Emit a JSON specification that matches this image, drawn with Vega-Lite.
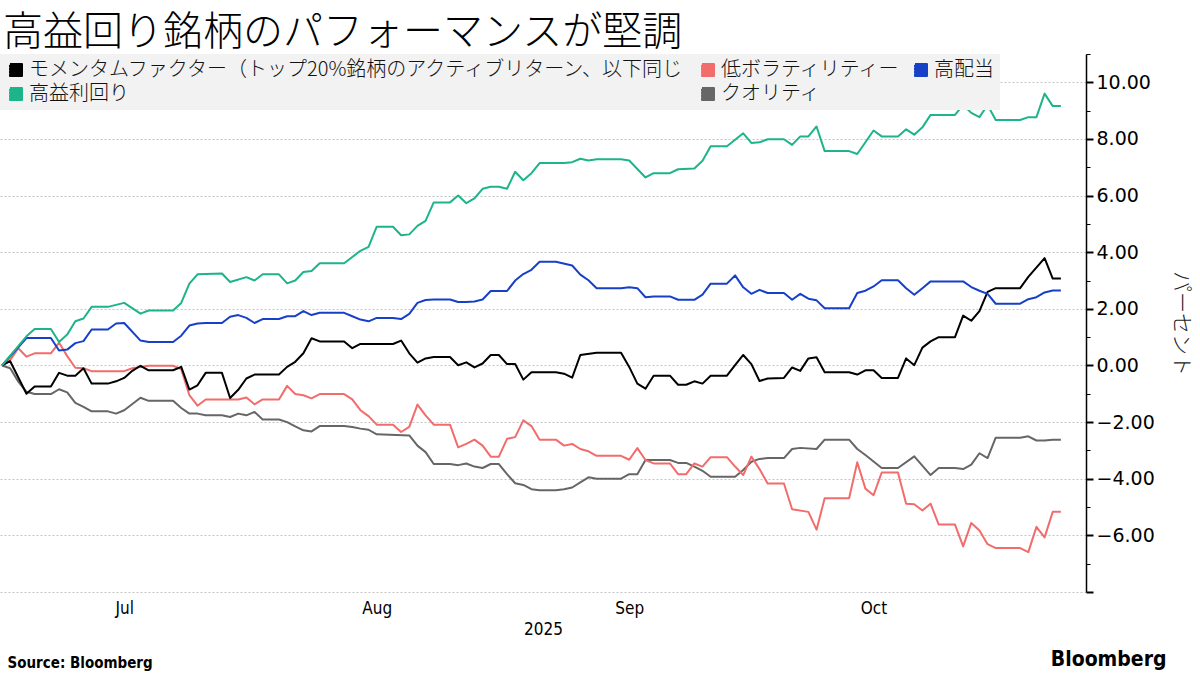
{
  "$schema": "https://vega.github.io/schema/vega-lite/v6.json",
  "width": 1200,
  "height": 675,
  "autosize": {"type": "fit", "contains": "padding"},
  "padding": {"left": 0, "top": 12, "right": 8, "bottom": 5},
  "background": "white",
  "title": {
    "text": "高益回り銘柄のパフォーマンスが堅調",
    "anchor": "start",
    "font": "Noto Sans CJK JP",
    "fontSize": 40,
    "fontWeight": 300,
    "color": "#000000",
    "offset": 1,
    "dx": 3
  },
  "config": {
    "view": {"stroke": null},
    "line": {"strokeWidth": 2, "strokeJoin": "round"}
  },
  "datasets": {
    "quality": [
      {"date": "2025-06-16", "value": 0}, {"date": "2025-06-17", "value": -0.1}, {"date": "2025-06-18", "value": -0.57}, {"date": "2025-06-19", "value": -0.93}, {"date": "2025-06-20", "value": -1.01}, {"date": "2025-06-22", "value": -1.01}, {"date": "2025-06-23", "value": -0.84}, {"date": "2025-06-24", "value": -0.95}, {"date": "2025-06-25", "value": -1.32}, {"date": "2025-06-26", "value": -1.46}, {"date": "2025-06-27", "value": -1.62}, {"date": "2025-06-29", "value": -1.62}, {"date": "2025-06-30", "value": -1.7}, {"date": "2025-07-01", "value": -1.58}, {"date": "2025-07-03", "value": -1.14}, {"date": "2025-07-04", "value": -1.25}, {"date": "2025-07-07", "value": -1.25}, {"date": "2025-07-08", "value": -1.5}, {"date": "2025-07-09", "value": -1.7}, {"date": "2025-07-10", "value": -1.7}, {"date": "2025-07-11", "value": -1.76}, {"date": "2025-07-13", "value": -1.76}, {"date": "2025-07-14", "value": -1.82}, {"date": "2025-07-15", "value": -1.7}, {"date": "2025-07-16", "value": -1.76}, {"date": "2025-07-17", "value": -1.64}, {"date": "2025-07-18", "value": -1.91}, {"date": "2025-07-20", "value": -1.91}, {"date": "2025-07-21", "value": -2.0}, {"date": "2025-07-22", "value": -2.15}, {"date": "2025-07-23", "value": -2.29}, {"date": "2025-07-24", "value": -2.33}, {"date": "2025-07-25", "value": -2.14}, {"date": "2025-07-28", "value": -2.14}, {"date": "2025-07-29", "value": -2.17}, {"date": "2025-07-30", "value": -2.23}, {"date": "2025-07-31", "value": -2.27}, {"date": "2025-08-01", "value": -2.43}, {"date": "2025-08-05", "value": -2.47}, {"date": "2025-08-06", "value": -2.83}, {"date": "2025-08-07", "value": -3.06}, {"date": "2025-08-08", "value": -3.48}, {"date": "2025-08-10", "value": -3.48}, {"date": "2025-08-11", "value": -3.52}, {"date": "2025-08-12", "value": -3.46}, {"date": "2025-08-13", "value": -3.57}, {"date": "2025-08-14", "value": -3.62}, {"date": "2025-08-15", "value": -3.48}, {"date": "2025-08-16", "value": -3.48}, {"date": "2025-08-17", "value": -3.84}, {"date": "2025-08-18", "value": -4.16}, {"date": "2025-08-19", "value": -4.22}, {"date": "2025-08-20", "value": -4.37}, {"date": "2025-08-21", "value": -4.41}, {"date": "2025-08-23", "value": -4.41}, {"date": "2025-08-24", "value": -4.37}, {"date": "2025-08-25", "value": -4.31}, {"date": "2025-08-26", "value": -4.13}, {"date": "2025-08-27", "value": -3.95}, {"date": "2025-08-28", "value": -4.0}, {"date": "2025-08-31", "value": -4.0}, {"date": "2025-09-01", "value": -3.84}, {"date": "2025-09-02", "value": -3.84}, {"date": "2025-09-03", "value": -3.34}, {"date": "2025-09-06", "value": -3.34}, {"date": "2025-09-07", "value": -3.44}, {"date": "2025-09-08", "value": -3.44}, {"date": "2025-09-09", "value": -3.57}, {"date": "2025-09-10", "value": -3.72}, {"date": "2025-09-11", "value": -3.93}, {"date": "2025-09-14", "value": -3.93}, {"date": "2025-09-15", "value": -3.69}, {"date": "2025-09-16", "value": -3.4}, {"date": "2025-09-17", "value": -3.3}, {"date": "2025-09-18", "value": -3.27}, {"date": "2025-09-20", "value": -3.27}, {"date": "2025-09-21", "value": -2.95}, {"date": "2025-09-22", "value": -2.91}, {"date": "2025-09-24", "value": -2.95}, {"date": "2025-09-25", "value": -2.62}, {"date": "2025-09-28", "value": -2.62}, {"date": "2025-09-29", "value": -2.95}, {"date": "2025-09-30", "value": -3.16}, {"date": "2025-10-02", "value": -3.62}, {"date": "2025-10-04", "value": -3.62}, {"date": "2025-10-06", "value": -3.21}, {"date": "2025-10-08", "value": -3.87}, {"date": "2025-10-09", "value": -3.62}, {"date": "2025-10-11", "value": -3.62}, {"date": "2025-10-12", "value": -3.66}, {"date": "2025-10-13", "value": -3.5}, {"date": "2025-10-14", "value": -3.1}, {"date": "2025-10-15", "value": -3.27}, {"date": "2025-10-16", "value": -2.55}, {"date": "2025-10-19", "value": -2.55}, {"date": "2025-10-20", "value": -2.5}, {"date": "2025-10-21", "value": -2.65}, {"date": "2025-10-22", "value": -2.65}, {"date": "2025-10-23", "value": -2.62}, {"date": "2025-10-24", "value": -2.62}
    ],
    "lowvol": [
      {"date": "2025-06-16", "value": 0}, {"date": "2025-06-17", "value": 0.19}, {"date": "2025-06-18", "value": 0.61}, {"date": "2025-06-19", "value": 0.31}, {"date": "2025-06-20", "value": 0.43}, {"date": "2025-06-22", "value": 0.43}, {"date": "2025-06-23", "value": 0.81}, {"date": "2025-06-24", "value": 0.33}, {"date": "2025-06-25", "value": -0.08}, {"date": "2025-06-26", "value": -0.1}, {"date": "2025-06-27", "value": -0.2}, {"date": "2025-07-01", "value": -0.2}, {"date": "2025-07-02", "value": -0.1}, {"date": "2025-07-03", "value": -0.05}, {"date": "2025-07-04", "value": -0.01}, {"date": "2025-07-07", "value": -0.01}, {"date": "2025-07-08", "value": -0.13}, {"date": "2025-07-09", "value": -1.05}, {"date": "2025-07-10", "value": -1.42}, {"date": "2025-07-11", "value": -1.2}, {"date": "2025-07-15", "value": -1.2}, {"date": "2025-07-16", "value": -1.13}, {"date": "2025-07-17", "value": -1.37}, {"date": "2025-07-18", "value": -1.2}, {"date": "2025-07-20", "value": -1.2}, {"date": "2025-07-21", "value": -0.72}, {"date": "2025-07-22", "value": -1.01}, {"date": "2025-07-23", "value": -1.05}, {"date": "2025-07-24", "value": -1.16}, {"date": "2025-07-25", "value": -1.01}, {"date": "2025-07-28", "value": -1.01}, {"date": "2025-07-29", "value": -1.2}, {"date": "2025-07-30", "value": -1.58}, {"date": "2025-07-31", "value": -1.79}, {"date": "2025-08-01", "value": -2.09}, {"date": "2025-08-03", "value": -2.09}, {"date": "2025-08-04", "value": -2.35}, {"date": "2025-08-05", "value": -2.17}, {"date": "2025-08-06", "value": -1.38}, {"date": "2025-08-07", "value": -1.76}, {"date": "2025-08-08", "value": -2.09}, {"date": "2025-08-10", "value": -2.09}, {"date": "2025-08-11", "value": -2.89}, {"date": "2025-08-12", "value": -2.77}, {"date": "2025-08-13", "value": -2.62}, {"date": "2025-08-14", "value": -2.83}, {"date": "2025-08-15", "value": -3.22}, {"date": "2025-08-16", "value": -3.22}, {"date": "2025-08-17", "value": -2.59}, {"date": "2025-08-18", "value": -2.53}, {"date": "2025-08-19", "value": -1.94}, {"date": "2025-08-20", "value": -2.14}, {"date": "2025-08-21", "value": -2.62}, {"date": "2025-08-23", "value": -2.62}, {"date": "2025-08-24", "value": -2.83}, {"date": "2025-08-25", "value": -2.77}, {"date": "2025-08-26", "value": -2.95}, {"date": "2025-08-27", "value": -3.03}, {"date": "2025-08-28", "value": -3.19}, {"date": "2025-08-31", "value": -3.19}, {"date": "2025-09-01", "value": -3.33}, {"date": "2025-09-02", "value": -2.92}, {"date": "2025-09-03", "value": -3.34}, {"date": "2025-09-04", "value": -3.46}, {"date": "2025-09-06", "value": -3.46}, {"date": "2025-09-07", "value": -3.84}, {"date": "2025-09-08", "value": -3.84}, {"date": "2025-09-09", "value": -3.46}, {"date": "2025-09-10", "value": -3.57}, {"date": "2025-09-11", "value": -3.24}, {"date": "2025-09-13", "value": -3.24}, {"date": "2025-09-14", "value": -3.57}, {"date": "2025-09-15", "value": -3.87}, {"date": "2025-09-16", "value": -3.22}, {"date": "2025-09-17", "value": -3.66}, {"date": "2025-09-18", "value": -4.17}, {"date": "2025-09-20", "value": -4.17}, {"date": "2025-09-21", "value": -5.08}, {"date": "2025-09-23", "value": -5.17}, {"date": "2025-09-24", "value": -5.8}, {"date": "2025-09-25", "value": -4.69}, {"date": "2025-09-28", "value": -4.69}, {"date": "2025-09-29", "value": -3.42}, {"date": "2025-09-30", "value": -4.35}, {"date": "2025-10-01", "value": -4.58}, {"date": "2025-10-02", "value": -3.78}, {"date": "2025-10-04", "value": -3.78}, {"date": "2025-10-05", "value": -4.88}, {"date": "2025-10-06", "value": -4.9}, {"date": "2025-10-07", "value": -5.12}, {"date": "2025-10-08", "value": -4.88}, {"date": "2025-10-09", "value": -5.62}, {"date": "2025-10-11", "value": -5.62}, {"date": "2025-10-12", "value": -6.39}, {"date": "2025-10-13", "value": -5.56}, {"date": "2025-10-14", "value": -5.83}, {"date": "2025-10-15", "value": -6.31}, {"date": "2025-10-16", "value": -6.45}, {"date": "2025-10-19", "value": -6.45}, {"date": "2025-10-20", "value": -6.59}, {"date": "2025-10-21", "value": -5.7}, {"date": "2025-10-22", "value": -6.07}, {"date": "2025-10-23", "value": -5.17}, {"date": "2025-10-24", "value": -5.17}
    ],
    "momentum": [
      {"date": "2025-06-16", "value": 0}, {"date": "2025-06-17", "value": 0.15}, {"date": "2025-06-19", "value": -1.0}, {"date": "2025-06-20", "value": -0.74}, {"date": "2025-06-22", "value": -0.74}, {"date": "2025-06-23", "value": -0.26}, {"date": "2025-06-24", "value": -0.36}, {"date": "2025-06-25", "value": -0.36}, {"date": "2025-06-26", "value": -0.1}, {"date": "2025-06-27", "value": -0.64}, {"date": "2025-06-29", "value": -0.64}, {"date": "2025-06-30", "value": -0.56}, {"date": "2025-07-01", "value": -0.44}, {"date": "2025-07-02", "value": -0.19}, {"date": "2025-07-03", "value": -0.01}, {"date": "2025-07-04", "value": -0.17}, {"date": "2025-07-07", "value": -0.17}, {"date": "2025-07-08", "value": -0.05}, {"date": "2025-07-09", "value": -0.85}, {"date": "2025-07-10", "value": -0.7}, {"date": "2025-07-11", "value": -0.26}, {"date": "2025-07-13", "value": -0.26}, {"date": "2025-07-14", "value": -1.15}, {"date": "2025-07-15", "value": -0.86}, {"date": "2025-07-16", "value": -0.46}, {"date": "2025-07-17", "value": -0.32}, {"date": "2025-07-20", "value": -0.32}, {"date": "2025-07-21", "value": -0.05}, {"date": "2025-07-22", "value": 0.13}, {"date": "2025-07-23", "value": 0.43}, {"date": "2025-07-24", "value": 0.96}, {"date": "2025-07-25", "value": 0.85}, {"date": "2025-07-28", "value": 0.85}, {"date": "2025-07-29", "value": 0.61}, {"date": "2025-07-30", "value": 0.76}, {"date": "2025-08-03", "value": 0.76}, {"date": "2025-08-04", "value": 0.88}, {"date": "2025-08-05", "value": 0.43}, {"date": "2025-08-06", "value": 0.1}, {"date": "2025-08-07", "value": 0.25}, {"date": "2025-08-08", "value": 0.3}, {"date": "2025-08-10", "value": 0.3}, {"date": "2025-08-11", "value": 0.01}, {"date": "2025-08-12", "value": 0.11}, {"date": "2025-08-13", "value": -0.07}, {"date": "2025-08-14", "value": 0.07}, {"date": "2025-08-15", "value": 0.37}, {"date": "2025-08-16", "value": 0.37}, {"date": "2025-08-17", "value": 0.05}, {"date": "2025-08-18", "value": 0.05}, {"date": "2025-08-19", "value": -0.5}, {"date": "2025-08-20", "value": -0.24}, {"date": "2025-08-23", "value": -0.24}, {"date": "2025-08-24", "value": -0.29}, {"date": "2025-08-25", "value": -0.43}, {"date": "2025-08-26", "value": 0.37}, {"date": "2025-08-28", "value": 0.45}, {"date": "2025-08-31", "value": 0.45}, {"date": "2025-09-01", "value": -0.05}, {"date": "2025-09-02", "value": -0.64}, {"date": "2025-09-03", "value": -0.82}, {"date": "2025-09-04", "value": -0.36}, {"date": "2025-09-06", "value": -0.36}, {"date": "2025-09-07", "value": -0.68}, {"date": "2025-09-08", "value": -0.68}, {"date": "2025-09-09", "value": -0.56}, {"date": "2025-09-10", "value": -0.64}, {"date": "2025-09-11", "value": -0.36}, {"date": "2025-09-13", "value": -0.36}, {"date": "2025-09-14", "value": 0.01}, {"date": "2025-09-15", "value": 0.37}, {"date": "2025-09-16", "value": 0.05}, {"date": "2025-09-17", "value": -0.55}, {"date": "2025-09-18", "value": -0.46}, {"date": "2025-09-20", "value": -0.44}, {"date": "2025-09-21", "value": -0.07}, {"date": "2025-09-22", "value": -0.19}, {"date": "2025-09-23", "value": 0.25}, {"date": "2025-09-24", "value": 0.29}, {"date": "2025-09-25", "value": -0.24}, {"date": "2025-09-28", "value": -0.24}, {"date": "2025-09-29", "value": -0.32}, {"date": "2025-09-30", "value": -0.17}, {"date": "2025-10-01", "value": -0.17}, {"date": "2025-10-02", "value": -0.44}, {"date": "2025-10-04", "value": -0.44}, {"date": "2025-10-05", "value": 0.25}, {"date": "2025-10-06", "value": 0.01}, {"date": "2025-10-07", "value": 0.63}, {"date": "2025-10-08", "value": 0.85}, {"date": "2025-10-09", "value": 1.0}, {"date": "2025-10-11", "value": 1.0}, {"date": "2025-10-12", "value": 1.76}, {"date": "2025-10-13", "value": 1.58}, {"date": "2025-10-14", "value": 1.92}, {"date": "2025-10-15", "value": 2.6}, {"date": "2025-10-16", "value": 2.73}, {"date": "2025-10-19", "value": 2.73}, {"date": "2025-10-20", "value": 3.13}, {"date": "2025-10-22", "value": 3.79}, {"date": "2025-10-23", "value": 3.07}, {"date": "2025-10-24", "value": 3.07}
    ],
    "dividend": [
      {"date": "2025-06-16", "value": 0}, {"date": "2025-06-19", "value": 0.97}, {"date": "2025-06-22", "value": 0.97}, {"date": "2025-06-23", "value": 0.53}, {"date": "2025-06-24", "value": 0.56}, {"date": "2025-06-25", "value": 0.79}, {"date": "2025-06-26", "value": 0.86}, {"date": "2025-06-27", "value": 1.27}, {"date": "2025-06-29", "value": 1.27}, {"date": "2025-06-30", "value": 1.48}, {"date": "2025-07-01", "value": 1.5}, {"date": "2025-07-03", "value": 0.88}, {"date": "2025-07-04", "value": 0.83}, {"date": "2025-07-07", "value": 0.83}, {"date": "2025-07-08", "value": 1.05}, {"date": "2025-07-09", "value": 1.41}, {"date": "2025-07-10", "value": 1.48}, {"date": "2025-07-11", "value": 1.5}, {"date": "2025-07-13", "value": 1.5}, {"date": "2025-07-14", "value": 1.72}, {"date": "2025-07-15", "value": 1.78}, {"date": "2025-07-16", "value": 1.68}, {"date": "2025-07-17", "value": 1.5}, {"date": "2025-07-18", "value": 1.64}, {"date": "2025-07-20", "value": 1.64}, {"date": "2025-07-21", "value": 1.74}, {"date": "2025-07-22", "value": 1.74}, {"date": "2025-07-23", "value": 1.92}, {"date": "2025-07-24", "value": 1.78}, {"date": "2025-07-25", "value": 1.86}, {"date": "2025-07-28", "value": 1.86}, {"date": "2025-07-29", "value": 1.74}, {"date": "2025-07-30", "value": 1.62}, {"date": "2025-07-31", "value": 1.56}, {"date": "2025-08-01", "value": 1.68}, {"date": "2025-08-03", "value": 1.68}, {"date": "2025-08-04", "value": 1.64}, {"date": "2025-08-05", "value": 1.82}, {"date": "2025-08-06", "value": 2.21}, {"date": "2025-08-07", "value": 2.31}, {"date": "2025-08-08", "value": 2.33}, {"date": "2025-08-10", "value": 2.33}, {"date": "2025-08-11", "value": 2.24}, {"date": "2025-08-12", "value": 2.24}, {"date": "2025-08-13", "value": 2.26}, {"date": "2025-08-14", "value": 2.33}, {"date": "2025-08-15", "value": 2.63}, {"date": "2025-08-17", "value": 2.63}, {"date": "2025-08-18", "value": 3.0}, {"date": "2025-08-19", "value": 3.23}, {"date": "2025-08-20", "value": 3.38}, {"date": "2025-08-21", "value": 3.66}, {"date": "2025-08-23", "value": 3.66}, {"date": "2025-08-25", "value": 3.53}, {"date": "2025-08-26", "value": 3.21}, {"date": "2025-08-27", "value": 3.01}, {"date": "2025-08-28", "value": 2.73}, {"date": "2025-08-31", "value": 2.73}, {"date": "2025-09-01", "value": 2.76}, {"date": "2025-09-02", "value": 2.73}, {"date": "2025-09-03", "value": 2.41}, {"date": "2025-09-04", "value": 2.44}, {"date": "2025-09-06", "value": 2.44}, {"date": "2025-09-07", "value": 2.32}, {"date": "2025-09-09", "value": 2.32}, {"date": "2025-09-10", "value": 2.5}, {"date": "2025-09-11", "value": 2.89}, {"date": "2025-09-13", "value": 2.89}, {"date": "2025-09-14", "value": 3.18}, {"date": "2025-09-15", "value": 2.76}, {"date": "2025-09-16", "value": 2.53}, {"date": "2025-09-17", "value": 2.67}, {"date": "2025-09-18", "value": 2.56}, {"date": "2025-09-20", "value": 2.56}, {"date": "2025-09-21", "value": 2.32}, {"date": "2025-09-22", "value": 2.53}, {"date": "2025-09-23", "value": 2.36}, {"date": "2025-09-24", "value": 2.3}, {"date": "2025-09-25", "value": 2.02}, {"date": "2025-09-28", "value": 2.02}, {"date": "2025-09-29", "value": 2.56}, {"date": "2025-09-30", "value": 2.64}, {"date": "2025-10-01", "value": 2.79}, {"date": "2025-10-02", "value": 3.01}, {"date": "2025-10-04", "value": 3.01}, {"date": "2025-10-05", "value": 2.73}, {"date": "2025-10-06", "value": 2.5}, {"date": "2025-10-07", "value": 2.73}, {"date": "2025-10-08", "value": 2.97}, {"date": "2025-10-12", "value": 2.97}, {"date": "2025-10-13", "value": 2.77}, {"date": "2025-10-14", "value": 2.64}, {"date": "2025-10-15", "value": 2.53}, {"date": "2025-10-16", "value": 2.18}, {"date": "2025-10-19", "value": 2.18}, {"date": "2025-10-20", "value": 2.34}, {"date": "2025-10-21", "value": 2.41}, {"date": "2025-10-22", "value": 2.58}, {"date": "2025-10-23", "value": 2.65}, {"date": "2025-10-24", "value": 2.65}
    ],
    "earnings": [
      {"date": "2025-06-16", "value": 0}, {"date": "2025-06-19", "value": 1.03}, {"date": "2025-06-20", "value": 1.29}, {"date": "2025-06-22", "value": 1.29}, {"date": "2025-06-23", "value": 0.83}, {"date": "2025-06-24", "value": 1.09}, {"date": "2025-06-25", "value": 1.56}, {"date": "2025-06-26", "value": 1.66}, {"date": "2025-06-27", "value": 2.07}, {"date": "2025-06-29", "value": 2.07}, {"date": "2025-07-01", "value": 2.21}, {"date": "2025-07-03", "value": 1.83}, {"date": "2025-07-04", "value": 1.94}, {"date": "2025-07-07", "value": 1.94}, {"date": "2025-07-08", "value": 2.21}, {"date": "2025-07-09", "value": 2.89}, {"date": "2025-07-10", "value": 3.22}, {"date": "2025-07-13", "value": 3.25}, {"date": "2025-07-14", "value": 2.95}, {"date": "2025-07-16", "value": 3.12}, {"date": "2025-07-17", "value": 3.0}, {"date": "2025-07-18", "value": 3.22}, {"date": "2025-07-20", "value": 3.22}, {"date": "2025-07-21", "value": 2.9}, {"date": "2025-07-22", "value": 3.0}, {"date": "2025-07-23", "value": 3.3}, {"date": "2025-07-24", "value": 3.34}, {"date": "2025-07-25", "value": 3.61}, {"date": "2025-07-28", "value": 3.61}, {"date": "2025-07-30", "value": 4.05}, {"date": "2025-07-31", "value": 4.19}, {"date": "2025-08-01", "value": 4.9}, {"date": "2025-08-03", "value": 4.9}, {"date": "2025-08-04", "value": 4.6}, {"date": "2025-08-05", "value": 4.63}, {"date": "2025-08-06", "value": 4.93}, {"date": "2025-08-07", "value": 5.11}, {"date": "2025-08-08", "value": 5.76}, {"date": "2025-08-10", "value": 5.76}, {"date": "2025-08-11", "value": 6.0}, {"date": "2025-08-12", "value": 5.73}, {"date": "2025-08-13", "value": 5.9}, {"date": "2025-08-14", "value": 6.24}, {"date": "2025-08-15", "value": 6.31}, {"date": "2025-08-16", "value": 6.31}, {"date": "2025-08-17", "value": 6.24}, {"date": "2025-08-18", "value": 6.84}, {"date": "2025-08-19", "value": 6.54}, {"date": "2025-08-20", "value": 6.79}, {"date": "2025-08-21", "value": 7.15}, {"date": "2025-08-24", "value": 7.15}, {"date": "2025-08-25", "value": 7.18}, {"date": "2025-08-26", "value": 7.3}, {"date": "2025-08-27", "value": 7.24}, {"date": "2025-08-28", "value": 7.28}, {"date": "2025-08-31", "value": 7.28}, {"date": "2025-09-01", "value": 7.24}, {"date": "2025-09-03", "value": 6.64}, {"date": "2025-09-04", "value": 6.79}, {"date": "2025-09-06", "value": 6.79}, {"date": "2025-09-07", "value": 6.93}, {"date": "2025-09-09", "value": 6.96}, {"date": "2025-09-10", "value": 7.23}, {"date": "2025-09-11", "value": 7.74}, {"date": "2025-09-13", "value": 7.74}, {"date": "2025-09-15", "value": 8.2}, {"date": "2025-09-16", "value": 7.86}, {"date": "2025-09-17", "value": 7.88}, {"date": "2025-09-18", "value": 7.99}, {"date": "2025-09-20", "value": 7.99}, {"date": "2025-09-21", "value": 7.79}, {"date": "2025-09-22", "value": 8.09}, {"date": "2025-09-23", "value": 8.09}, {"date": "2025-09-24", "value": 8.44}, {"date": "2025-09-25", "value": 7.57}, {"date": "2025-09-28", "value": 7.57}, {"date": "2025-09-29", "value": 7.47}, {"date": "2025-10-01", "value": 8.3}, {"date": "2025-10-02", "value": 8.09}, {"date": "2025-10-04", "value": 8.09}, {"date": "2025-10-05", "value": 8.34}, {"date": "2025-10-06", "value": 8.15}, {"date": "2025-10-07", "value": 8.41}, {"date": "2025-10-08", "value": 8.85}, {"date": "2025-10-11", "value": 8.85}, {"date": "2025-10-12", "value": 9.2}, {"date": "2025-10-13", "value": 8.92}, {"date": "2025-10-14", "value": 8.77}, {"date": "2025-10-15", "value": 9.2}, {"date": "2025-10-16", "value": 8.67}, {"date": "2025-10-19", "value": 8.67}, {"date": "2025-10-20", "value": 8.77}, {"date": "2025-10-21", "value": 8.77}, {"date": "2025-10-22", "value": 9.6}, {"date": "2025-10-23", "value": 9.16}, {"date": "2025-10-24", "value": 9.16}
    ]
  },
  "layer": [
    {
      "data": {"name": "quality"},
      "mark": {"type": "line", "strokeWidth": 2},
      "encoding": {
        "x": {
          "field": "date", "type": "temporal",
          "scale": {"type": "utc", "domain": [{"year": 2025, "month": 6, "date": 15, "hours": 18, "utc": true}, {"year": 2025, "month": 10, "date": 27, "hours": 2, "utc": true}]},
          "axis": {
            "orient": "bottom", "format": "%b", "tickCount": "month", "labelFlush": false,
            "domain": false, "ticks": false, "grid": false,
            "labelFont": "DejaVu Sans Condensed", "labelFontSize": 17, "labelColor": "#000", "labelPadding": 8,
            "title": "2025", "titleFont": "DejaVu Sans Condensed", "titleFontSize": 17, "titleFontWeight": "normal", "titleColor": "#000", "titlePadding": 5
          }
        },
        "y": {
          "field": "value", "type": "quantitative",
          "scale": {"domain": [-8, 11], "nice": false, "zero": false},
          "axis": {
            "orient": "right", "values": [-8, -6, -4, -2, 0, 2, 4, 6, 8, 10],
            "labelExpr": "datum.value < -7 ? '' : format(datum.value, '.2f')",
            "labelFont": "DejaVu Sans", "labelFontSize": 19, "labelColor": "#000", "labelPadding": 3,
            "domain": true, "domainColor": "#000", "domainWidth": 1.5,
            "ticks": true, "tickColor": "#000", "tickWidth": 2, "tickSize": 7,
            "grid": true, "gridColor": "#c4c4c4", "gridDash": [2, 2], "gridWidth": 1,
            "title": "パーセント", "titleFont": "Noto Sans CJK JP", "titleFontSize": 21, "titleFontWeight": 300, "titleColor": "#222", "titlePadding": 16
          }
        },
        "color": {
          "datum": "クオリティ", "type": "nominal",
          "scale": {
            "domain": ["モメンタムファクター（トップ20%銘柄のアクティブリターン、以下同じ", "低ボラティリティー", "高配当", "高益利回り", "クオリティ"],
            "range": ["#000000", "#f26c6c", "#1740c8", "#1db48a", "#666666"]
          },
          "legend": {
            "title": null, "orient": "top-left", "direction": "horizontal", "columns": 3, "offset": 0,
            "fillColor": "#f2f2f2", "padding": 6,
            "labelFont": "Noto Sans CJK JP", "labelFontSize": 20, "labelFontWeight": 300, "labelColor": "#111", "labelLimit": 1000, "labelOffset": 3,
            "symbolType": "M-1,-1H1V-0.75H-1V-0.5H1V-0.25H-1V0H1V0.25H-1V0.5H1V0.75H-1V1H1V-1",
            "symbolSize": 144, "symbolStrokeWidth": 2,
            "columnPadding": 10, "rowPadding": 4
          }
        }
      }
    },
    {
      "data": {"name": "lowvol"},
      "mark": {"type": "line", "strokeWidth": 2},
      "encoding": {
        "x": {
          "field": "date", "type": "temporal",
          "axis": {
            "orient": "bottom", "labels": false, "ticks": false, "domain": false, "grid": false,
            "title": "Source: Bloomberg", "titleFont": "DejaVu Sans Condensed", "titleFontSize": 15, "titleFontWeight": "bold", "titleColor": "#000",
            "titleAnchor": "start", "titleAlign": "left", "titleBaseline": "top", "titleX": 7, "titleY": 63
          }
        },
        "y": {
          "field": "value", "type": "quantitative",
          "axis": {
            "orient": "right", "values": [-7, -5, -3, -1, 1, 3, 5, 7, 9, 11],
            "labels": false, "domain": false, "grid": false,
            "ticks": true, "tickColor": "#000", "tickWidth": 1, "tickSize": 4, "title": null
          }
        },
        "color": {"datum": "低ボラティリティー", "type": "nominal", "legend": null}
      }
    },
    {
      "data": {"name": "momentum"},
      "mark": {"type": "line", "strokeWidth": 2},
      "encoding": {
        "x": {
          "field": "date", "type": "temporal",
          "axis": {
            "orient": "bottom", "labels": false, "ticks": false, "domain": false, "grid": false,
            "title": "Bloomberg", "titleFont": "DejaVu Sans Condensed", "titleFontSize": 21, "titleFontWeight": "bold", "titleColor": "#000",
            "titleAnchor": "start", "titleAlign": "right", "titleBaseline": "top", "titleX": 1166, "titleY": 56
          }
        },
        "y": {"field": "value", "type": "quantitative", "axis": null},
        "color": {"datum": "モメンタムファクター（トップ20%銘柄のアクティブリターン、以下同じ", "type": "nominal", "legend": null}
      }
    },
    {
      "data": {"name": "dividend"},
      "mark": {"type": "line", "strokeWidth": 2},
      "encoding": {
        "x": {"field": "date", "type": "temporal", "axis": null},
        "y": {"field": "value", "type": "quantitative", "axis": null},
        "color": {"datum": "高配当", "type": "nominal", "legend": null}
      }
    },
    {
      "data": {"name": "earnings"},
      "mark": {"type": "line", "strokeWidth": 2},
      "encoding": {
        "x": {"field": "date", "type": "temporal", "axis": null},
        "y": {"field": "value", "type": "quantitative", "axis": null},
        "color": {"datum": "高益利回り", "type": "nominal", "legend": null}
      }
    }
  ],
  "resolve": {"axis": {"x": "independent", "y": "independent"}}
}
